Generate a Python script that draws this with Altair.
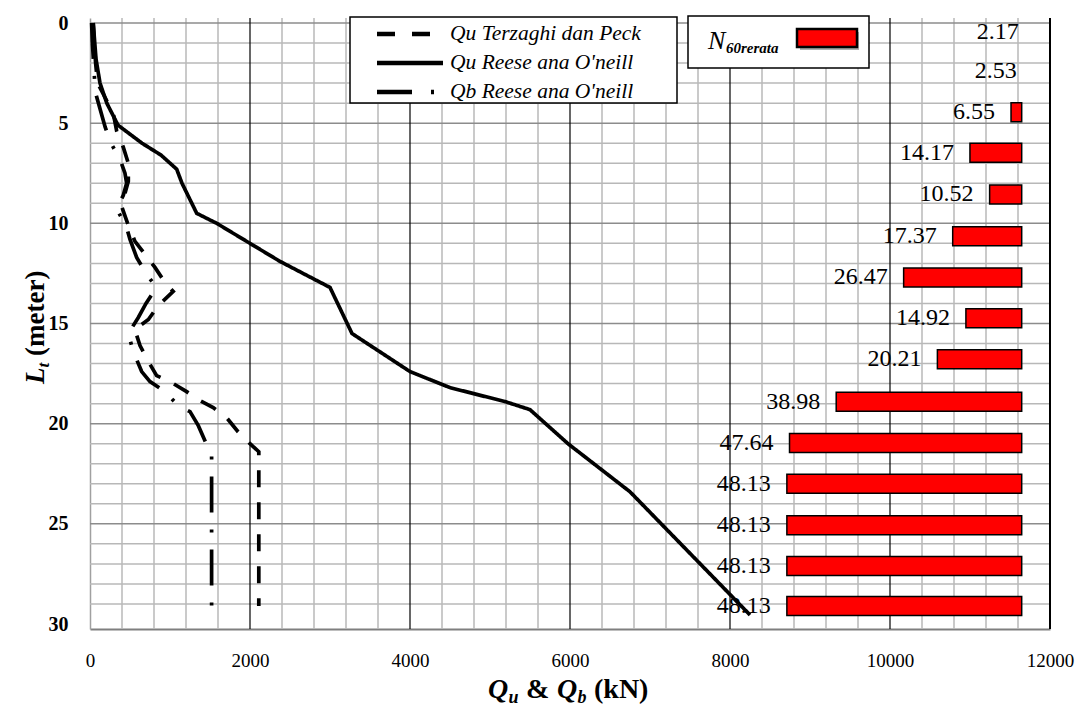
import altair as alt
import pandas as pd

FONT = "Liberation Serif"

# ---------------- data ----------------
terz_depth = [0, 1, 2, 3, 4.5, 5.4, 6.2, 7.0, 7.9, 8.5, 9.2, 10.0, 10.9, 11.55, 12.2, 12.95,
              13.4, 14.1, 14.8, 15.3, 16.1, 16.9, 17.6, 17.9, 18.4, 18.8, 19.2, 19.7, 20.4,
              21.0, 21.4, 29.1]
terz_q = [40, 55, 70, 95, 290, 334, 416, 479, 479, 437, 400, 470, 562, 687, 812, 937,
          1040, 854, 730, 560, 625, 730, 833, 1000, 1208, 1354, 1540, 1708, 1850,
          2000, 2110, 2110]

reese_depth = [0, 1.8, 3.0, 4.0, 5.1, 6.0, 6.6, 7.3, 8.0, 9.5, 10.0, 11.0, 11.9, 13.2,
               15.5, 17.4, 18.2, 18.9, 19.3, 21.0, 23.4, 29.55]
reese_q = [40, 75, 125, 210, 350, 650, 890, 1084, 1150, 1334, 1584, 2000, 2375, 3000,
           3275, 4000, 4500, 5190, 5500, 5975, 6750, 8250]

qb_depth = [0, 1, 2, 3, 3.5, 5.2, 6.0, 6.8, 7.5, 8.0, 8.6, 9.3, 10.1, 10.8, 11.7, 12.55,
            13.2, 14.0, 14.7, 15.5, 16.4, 17.4, 17.9, 18.4, 19.1, 19.4, 20.1, 21.2, 21.4, 29.4]
qb_q = [20, 30, 45, 60, 70, 190, 262, 375, 437, 458, 416, 333, 450, 500, 583, 708,
        830, 700, 604, 479, 541, 646, 750, 937, 1104, 1250, 1354, 1475, 1520, 1520]

bar_depth = [0.43, 2.42, 4.46, 6.48, 8.56, 10.65, 12.7, 14.74, 16.79, 18.9, 20.97, 23.0,
             25.07, 27.1, 29.1]
n60 = [2.17, 2.53, 6.55, 14.17, 10.52, 17.37, 26.47, 14.92, 20.21, 38.98, 47.64, 48.13,
       48.13, 48.13, 48.13]

x_ticks = [0, 2000, 4000, 6000, 8000, 10000, 12000]
y_ticks = [0, 5, 10, 15, 20, 25, 30]
x_grid_major = [2000, 4000, 6000, 8000, 10000]
x_grid_minor = [v for v in range(400, 12000, 400) if v % 2000 != 0]
y_grid_major = [0, 5, 10, 15, 20, 25]
y_grid_minor = [v for v in range(1, 30) if v % 5 != 0]

N0 = 4.57  # base of the N60 bars on their own (reversed) axis

# ---------------- frames ----------------
lines_df = pd.concat([
    pd.DataFrame({"series": "terz", "Q": terz_q, "depth": terz_depth, "i": range(len(terz_q))}),
    pd.DataFrame({"series": "reese", "Q": reese_q, "depth": reese_depth, "i": range(len(reese_q))}),
    pd.DataFrame({"series": "qb", "Q": qb_q, "depth": qb_depth, "i": range(len(qb_q))}),
])
bars_df = pd.DataFrame({"depth": bar_depth, "N": n60})
one = alt.Data(values=[{"k": 0}])

xscale = alt.Scale(domain=[0, 12000], nice=False, zero=False)
nscale = alt.Scale(domain=[-0.68, 177.4], reverse=True, nice=False, zero=False)
yscale = alt.Scale(domain=[0, 30], reverse=True, nice=False, zero=False)

xaxis = alt.Axis(values=x_ticks, title=None, grid=False, ticks=False, domainColor="#7f7f7f",
                 domainWidth=2, labelFont=FONT, labelFontSize=19, labelPadding=22,
                 labelFlush=False, labelOverlap=False, labelColor="black", format="d")
yaxis = alt.Axis(values=y_ticks, title=None, grid=False, ticks=False, domainColor="#a0a0a0",
                 domainWidth=1.5, labelFont=FONT, labelFontSize=20, labelFontWeight="bold",
                 labelPadding=22, labelColor="black", format="d")

Y = lambda f: alt.Y(f, scale=yscale, axis=yaxis)

# ---------------- grid ----------------
hminor = alt.Chart(pd.DataFrame({"v": y_grid_minor})).mark_rule(
    color="#b8b8b8", strokeWidth=1.5).encode(y=Y("v:Q"))
hmajor = alt.Chart(pd.DataFrame({"v": y_grid_major})).mark_rule(
    color="#8c8c8c", strokeWidth=1.5).encode(y=Y("v:Q"))
vminor = alt.Chart(pd.DataFrame({"v": x_grid_minor})).mark_rule(
    color="#b8b8b8", strokeWidth=1.5).encode(x=alt.X("v:Q", scale=xscale, axis=xaxis))
vmajor = alt.Chart(pd.DataFrame({"v": x_grid_major})).mark_rule(
    color="black", strokeWidth=1.2).encode(x=alt.X("v:Q", scale=xscale, axis=None))
vborder = alt.Chart(pd.DataFrame({"v": [12000]})).mark_rule(
    color="black", strokeWidth=2).encode(x=alt.X("v:Q", scale=xscale, axis=None))

# ---------------- bars + labels ----------------
bars = alt.Chart(bars_df).transform_filter(alt.datum.N > N0).mark_bar(
    color="#ff0000", stroke="black", strokeWidth=1.5, size=19, orient="horizontal"
).encode(
    x=alt.X("N:Q", scale=nscale, axis=None),
    x2=alt.datum(N0),
    y=Y("depth:Q"),
)
labels = alt.Chart(bars_df).mark_text(
    align="right", baseline="middle", dx=-16, font=FONT, fontSize=24, color="black"
).encode(
    x=alt.X("N:Q", scale=nscale, axis=None),
    y=Y("depth:Q"),
    text=alt.Text("N:Q", format=".2f"),
)

# ---------------- lines ----------------
def line(series, dash):
    return alt.Chart(lines_df).transform_filter(alt.datum.series == series).mark_line(
        color="black", strokeWidth=3.7, strokeDash=dash
    ).encode(
        x=alt.X("Q:Q", scale=xscale, axis=None),
        y=Y("depth:Q"),
        order="i:Q",
    )

l_terz = line("terz", [17, 15])
l_reese = line("reese", [1, 0])
l_qb = line("qb", [36, 17, 3, 17])

# ---------------- helpers for legend/title ----------------
def vtext(txt, x, y, size, style="normal", weight="normal", angle=0, baseline="alphabetic"):
    return alt.Chart(one).mark_text(
        text=txt, font=FONT, fontSize=size, fontStyle=style, fontWeight=weight,
        angle=angle, baseline=baseline, align="left", color="black"
    ).encode(x=alt.value(x), y=alt.value(y))

def vrect(x, x2, y, y2, fill, stroke, sw):
    return alt.Chart(one).mark_rect(fill=fill, stroke=stroke, strokeWidth=sw).encode(
        x=alt.value(x), x2=alt.value(x2), y=alt.value(y), y2=alt.value(y2))

def vrule(x, x2, y, dash):
    return alt.Chart(one).mark_rule(color="black", strokeWidth=4.5, strokeDash=dash).encode(
        x=alt.value(x), x2=alt.value(x2), y=alt.value(y))

legend1 = [
    vrect(260, 587, -1, 85, "white", "black", 1.5),
    vrule(287, 340, 16, [18, 17]),
    vrule(287, 353, 45, [1, 0]),
    vrule(287, 344, 74, [35, 19, 3, 19]),
    vtext("Qu Terzaghi dan Peck", 360, 16, 21.5, style="italic", baseline="middle"),
    vtext("Qu Reese ana O'neill", 360, 45, 21.5, style="italic", baseline="middle"),
    vtext("Qb Reese ana O'neill", 360, 74, 21.5, style="italic", baseline="middle"),
]
legend2 = [
    vrect(598, 779, -2, 50, "white", "black", 1.5),
    vrect(710, 769, 14, 32, "#b0b0b0", "#b0b0b0", 0),
    vrect(707, 767, 11, 29, "#ff0000", "black", 2.5),
    vtext("N", 618, 31, 26, style="italic"),
    vtext("60rerata", 636, 35, 15, style="italic", weight="bold"),
]
xtitle = [
    vtext("Q", 398, 680, 28, style="italic", weight="bold"),
    vtext("u", 418.5, 685, 18, style="italic", weight="bold"),
    vtext("&", 436, 680, 28, weight="bold"),
    vtext("Q", 467, 680, 28, style="italic", weight="bold"),
    vtext("b", 487.5, 685, 18, style="italic", weight="bold"),
    vtext("(kN)", 504, 680, 28, weight="bold"),
]
ytitle = [
    vtext("L", -46, 366, 27, style="italic", weight="bold", angle=270),
    vtext("t", -41, 349.5, 17, style="italic", weight="bold", angle=270),
    vtext("(meter)", -46, 338, 27, weight="bold", angle=270),
]

chart = alt.layer(
    hminor, vminor, hmajor, vmajor, vborder,
    bars, labels,
    l_terz, l_qb, l_reese,
    *legend1, *legend2, *xtitle, *ytitle,
).resolve_scale(x="independent").properties(
    width=960, height=611,
    autosize=alt.AutoSizeParams(type="none"),
    padding={"left": 82, "top": 10, "right": 25, "bottom": 78},
    background="white",
).configure_view(stroke=None)

chart.save("out.html", embed_options={"renderer": "svg", "actions": False})
